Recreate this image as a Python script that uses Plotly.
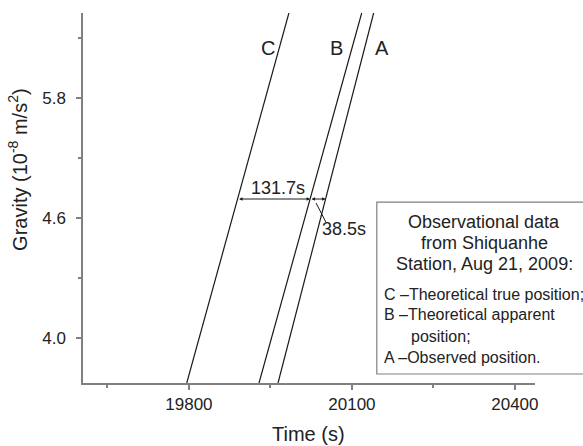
import numpy as np
import plotly.graph_objects as go

# ---- data ----
time_C = [19796, 19984]
grav_C = [3.775, 5.625]
time_B = [19929, 20118]
grav_B = [3.775, 5.625]
time_A = [19964, 20140]
grav_A = [3.775, 5.625]

x_tickvals = [19800, 20100, 20400]
x_ticktext = ["19800", "20100", "20400"]
y_tickvals = [4.0, 4.6, 5.2]
y_ticktext = ["4.0", "4.6", "5.8"]

arrow_level = 4.695
label_big = "131.7s"
label_small = "38.5s"

legend_title = ["Observational data", "from Shiquanhe", "Station, Aug 21, 2009:"]
legend_items = ["C \u2013Theoretical true position;", "B \u2013Theoretical apparent",
                "position;", "A \u2013Observed position."]

FONT = "Liberation Sans, Arial, sans-serif"
TXT = "#222222"
AX = "#808080"
LINE = "#1a1a1a"

fig = go.Figure()
for tx, gy in [(time_C, grav_C), (time_B, grav_B), (time_A, grav_A)]:
    fig.add_trace(go.Scatter(x=tx, y=gy, mode="lines",
                             line=dict(color=LINE, width=1.2), showlegend=False,
                             hoverinfo="skip"))

def cross(tx, gy, level):
    return float(np.interp(level, gy, tx))

xc = cross(time_C, grav_C, arrow_level)
xb = cross(time_B, grav_B, arrow_level)
xa = cross(time_A, grav_A, arrow_level)

annotations = []
for x0, x1 in [(xc, xb), (xb, xa)]:
    annotations.append(dict(x=x1, y=arrow_level, ax=x0, ay=arrow_level,
                            xref="x", yref="y", axref="x", ayref="y",
                            text="", showarrow=True, arrowhead=2, arrowside="end+start",
                            arrowsize=0.7, arrowwidth=1, arrowcolor=LINE,
                            standoff=0, startstandoff=0))

annotations.append(dict(x=19964, y=4.752, xref="x", yref="y", text=label_big,
                        showarrow=False, font=dict(family=FONT, size=18, color=TXT)))
annotations.append(dict(x=20085, y=4.545, xref="x", yref="y", text=label_small,
                        showarrow=False, font=dict(family=FONT, size=18, color=TXT)))

for lab, lx in [("C", 19945), ("B", 20072), ("A", 20155)]:
    annotations.append(dict(x=lx, y=5.45, xref="x", yref="y", text=lab,
                            showarrow=False, font=dict(family=FONT, size=20, color=TXT)))

# axis titles
annotations.append(dict(x=-0.1438, y=0.576, xref="paper", yref="paper",
                        text="Gravity (10<sup>-8</sup> m/s<sup>2</sup>)", textangle=-90,
                        showarrow=False, xanchor="center", yanchor="middle",
                        font=dict(family=FONT, size=20, color=TXT)))
annotations.append(dict(x=0.498, y=-0.138, xref="paper", yref="paper",
                        text="Time (s)", showarrow=False, xanchor="center", yanchor="middle",
                        font=dict(family=FONT, size=20, color=TXT)))

# legend box texts
for t, yy in zip(legend_title, [0.435, 0.378, 0.322]):
    annotations.append(dict(x=0.888, y=yy, xref="paper", yref="paper", text=t,
                            showarrow=False, xanchor="center", yanchor="middle",
                            font=dict(family=FONT, size=18, color=TXT)))
for t, xx, yy in zip(legend_items, [0.6615, 0.6615, 0.721, 0.6615],
                     [0.2405, 0.1838, 0.127, 0.0676]):
    annotations.append(dict(x=xx, y=yy, xref="paper", yref="paper", text=t,
                            showarrow=False, xanchor="left", yanchor="middle",
                            font=dict(family=FONT, size=16, color=TXT)))

shapes = [
    dict(type="rect", xref="paper", yref="paper", x0=0.650, x1=1.126, y0=0.0243, y1=0.489,
         line=dict(color=AX, width=1.2), fillcolor="white", layer="above"),
    dict(type="line", xref="x", yref="y", x0=20034, y0=4.675, x1=20052, y1=4.58,
         line=dict(color=LINE, width=1)),
]

fig.update_layout(
    width=583, height=446,
    margin=dict(l=83, r=48, t=13, b=63, autoexpand=False),
    paper_bgcolor="white", plot_bgcolor="white",
    annotations=annotations, shapes=shapes,
    font=dict(family=FONT, color=TXT),
    showlegend=False,
)
fig.update_xaxes(range=[19605, 20437], tickvals=x_tickvals, ticktext=x_ticktext,
                 automargin=False,
                 showgrid=False, zeroline=False, showline=True, linecolor=AX, linewidth=1.5,
                 ticks="outside", ticklen=5, tickcolor=AX, tickwidth=1.5,
                 tickfont=dict(family=FONT, size=17, color=TXT),
                 minor=dict(ticks="outside", ticklen=3, tickcolor=AX, tick0=19650, dtick=300,
                            showgrid=False))
fig.update_yaxes(range=[3.775, 5.625], tickvals=y_tickvals, ticktext=y_ticktext,
                 automargin=False, ticklabelstandoff=7,
                 showgrid=False, zeroline=False, showline=True, linecolor=AX, linewidth=1.5,
                 ticks="outside", ticklen=5, tickcolor=AX, tickwidth=1.5,
                 tickfont=dict(family=FONT, size=17, color=TXT),
                 minor=dict(ticks="outside", ticklen=3, tickcolor=AX, tick0=4.3, dtick=0.6,
                            showgrid=False))

fig.write_html("out.html", config={"displayModeBar": False},
               post_script="document.body.style.margin='0px';document.body.style.overflow='hidden';")
